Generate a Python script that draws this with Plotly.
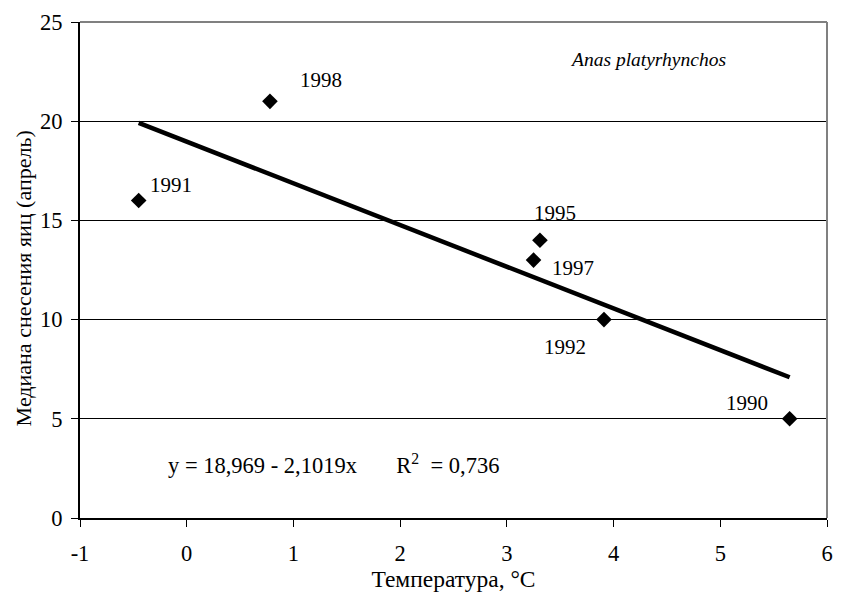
import plotly.graph_objects as go

# Data
years = ["1990", "1991", "1992", "1995", "1997", "1998"]
temperature = [5.65, -0.45, 3.91, 3.31, 3.25, 0.78]
median_day = [5, 16, 10, 14, 13, 21]

# Trend line coefficients (from chart text)
intercept = 18.969
slope = -2.1019
r2_text = "0,736"

x_ticks = [-1, 0, 1, 2, 3, 4, 5, 6]
x_ticktext = ["-1", "0", "1", "2", "3", "4", "5", "6"]
y_ticks = [0, 5, 10, 15, 20, 25]

# label offsets (px) relative to each point
label_offsets = {
    "1990": (-43, 16),
    "1991": (32, 16),
    "1992": (-39, -27),
    "1995": (15, 27),
    "1997": (39, -8),
    "1998": (51, 21),
}

FONT = "Liberation Serif"

fig = go.Figure()

xmin, xmax = min(temperature), max(temperature)
fig.add_trace(go.Scatter(
    x=[xmin, xmax],
    y=[intercept + slope * xmin, intercept + slope * xmax],
    mode="lines",
    line=dict(color="black", width=4.5),
    hoverinfo="skip",
    showlegend=False,
))

fig.add_trace(go.Scatter(
    x=temperature, y=median_day,
    mode="markers",
    marker=dict(symbol="diamond", size=12, color="black"),
    showlegend=False,
))

for yr, xv, yv in zip(years, temperature, median_day):
    dx, dy = label_offsets[yr]
    fig.add_annotation(
        x=xv, y=yv, text=yr, showarrow=False,
        xshift=dx, yshift=dy,
        font=dict(family=FONT, size=21, color="black"),
    )

fig.add_annotation(
    x=-0.195, y=2.7, xref="x", yref="y", xanchor="left", yanchor="middle",
    text=f"y = 18,969 - 2,1019x       R<sup>2</sup>  = {r2_text}",
    showarrow=False,
    font=dict(family=FONT, size=22.5, color="black"),
)

fig.add_annotation(
    x=0.76, y=0.925, xref="paper", yref="paper", xanchor="center", yanchor="middle",
    text="<i>Anas platyrhynchos</i>",
    showarrow=False,
    font=dict(family=FONT, size=19.5, color="black"),
)

# y-axis title
fig.add_annotation(
    x=-0.0757, y=0.484, xref="paper", yref="paper", xanchor="center", yanchor="middle",
    text="Медиана снесения яиц (апрель)", textangle=-90,
    showarrow=False,
    font=dict(family=FONT, size=22, color="black"),
)

# gray top/right border
fig.add_shape(type="line", xref="paper", yref="paper", x0=0, x1=1, y0=1, y1=1,
              line=dict(color="#808080", width=2))
fig.add_shape(type="line", xref="paper", yref="paper", x0=1, x1=1, y0=0, y1=1,
              line=dict(color="#808080", width=2))

fig.update_layout(
    width=842, height=594,
    margin=dict(l=80, r=9, t=22, b=76),
    paper_bgcolor="white", plot_bgcolor="white",
    font=dict(family=FONT, size=22, color="black"),
    xaxis=dict(
        range=[-1, 6], tickvals=x_ticks, ticktext=x_ticktext,
        showgrid=False, zeroline=False,
        showline=True, linecolor="black", linewidth=2,
        ticks="outside", ticklen=7, tickcolor="black", tickwidth=1,
        ticklabelstandoff=7,
        title=dict(text="Температура, °C", font=dict(family=FONT, size=23.5), standoff=3),
        tickfont=dict(family=FONT, size=22.5),
    ),
    yaxis=dict(
        range=[0, 25], tickvals=y_ticks,
        showgrid=True, gridcolor="black", gridwidth=1,
        zeroline=False,
        showline=True, linecolor="black", linewidth=2,
        ticks="outside", ticklen=7, tickcolor="black", tickwidth=1,
        ticklabelstandoff=4,
        tickfont=dict(family=FONT, size=22.5),
    ),
)

fig.write_html("out.html")
